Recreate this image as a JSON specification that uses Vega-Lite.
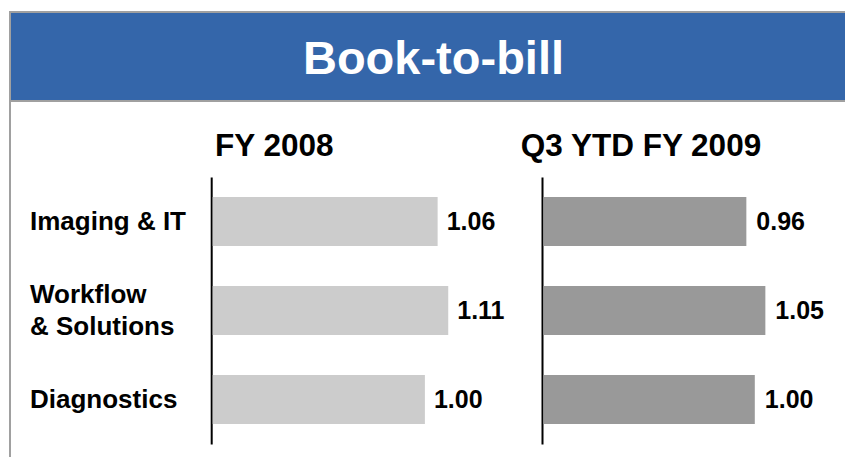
{
  "$schema": "https://vega.github.io/schema/vega-lite/v6.json",
  "width": 837,
  "height": 447,
  "autosize": "none",
  "padding": {"left": 10, "top": 12, "right": -2, "bottom": -2},
  "background": "white",
  "view": {"stroke": "#a0a0a0", "strokeWidth": 2, "fill": "white"},
  "config": {"font": "Liberation Sans"},
  "datasets": {
    "header": [{"title": "Book-to-bill"}],
    "b2b": [
      {"period": "FY 2008", "segment": "Imaging & IT", "value": 1.06},
      {"period": "FY 2008", "segment": "Workflow & Solutions", "value": 1.11},
      {"period": "FY 2008", "segment": "Diagnostics", "value": 1.00},
      {"period": "Q3 YTD FY 2009", "segment": "Imaging & IT", "value": 0.96},
      {"period": "Q3 YTD FY 2009", "segment": "Workflow & Solutions", "value": 1.05},
      {"period": "Q3 YTD FY 2009", "segment": "Diagnostics", "value": 1.00}
    ]
  },
  "layer": [
    {
      "data": {"name": "header"},
      "layer": [
        {
          "mark": {"type": "rect", "fill": "#3466AA", "stroke": "#a0a0a0", "strokeWidth": 2},
          "encoding": {
            "y": {"datum": 0, "type": "quantitative", "scale": {"domain": [0, 1], "range": [0, 89], "nice": false}, "axis": null},
            "y2": {"datum": 1}
          }
        },
        {
          "mark": {"type": "text", "color": "white", "fontSize": 47, "fontWeight": "bold", "font": "Liberation Sans", "align": "center", "baseline": "middle", "dx": 5, "dy": 3},
          "encoding": {
            "y": {"datum": 0.5, "type": "quantitative"},
            "text": {"field": "title"}
          }
        }
      ]
    },
    {
      "data": {"name": "b2b"},
      "transform": [{"filter": "datum.period == 'FY 2008'"}],
      "encoding": {
        "y": {
          "field": "segment", "type": "nominal", "sort": null,
          "scale": {"range": [165, 432], "paddingInner": 0.45, "paddingOuter": 0.225},
          "axis": {
            "orient": "left", "offset": -201.2, "title": null, "grid": false,
            "domainColor": "black", "domainWidth": 2,
            "ticks": false, "tickSize": 0,
            "labelAlign": "left", "labelBaseline": "middle", "labelPadding": 181.7,
            "labelOffset": {"condition": {"test": "datum.value == 'Workflow & Solutions'", "value": -16}, "value": 0},
            "labelFontSize": 26, "labelFontWeight": "bold", "labelColor": "black", "labelFont": "Liberation Sans",
            "labelLimit": 400, "labelLineHeight": 32,
            "labelExpr": "datum.value == 'Workflow & Solutions' ? ['Workflow', '& Solutions'] : datum.label"
          }
        },
        "x": {
          "field": "value", "type": "quantitative",
          "scale": {"domain": [0, 1], "range": [202.7, 414.9], "nice": false},
          "axis": {
            "orient": "top", "domain": false, "ticks": false, "labels": false, "grid": false,
            "title": "FY 2008", "titleFontSize": 31.5, "titleFontWeight": "bold", "titleColor": "black", "titleFont": "Liberation Sans",
            "titleX": 204.5, "titleY": 143.7, "titleAlign": "left", "titleBaseline": "alphabetic"
          }
        }
      },
      "layer": [
        {"mark": {"type": "bar", "color": "#cccccc"}},
        {
          "mark": {"type": "text", "align": "left", "baseline": "middle", "dx": 9, "fontSize": 25, "fontWeight": "bold", "color": "black", "font": "Liberation Sans"},
          "encoding": {"text": {"field": "value", "type": "quantitative", "format": ".2f"}}
        }
      ]
    },
    {
      "data": {"name": "b2b"},
      "transform": [{"filter": "datum.period == 'Q3 YTD FY 2009'"}],
      "encoding": {
        "y": {
          "field": "segment", "type": "nominal", "sort": null,
          "scale": {"range": [165, 432], "paddingInner": 0.45, "paddingOuter": 0.225},
          "axis": {
            "orient": "left", "offset": -532, "title": null, "grid": false,
            "domainColor": "black", "domainWidth": 2,
            "ticks": false, "tickSize": 0, "labels": false
          }
        },
        "x": {
          "field": "value", "type": "quantitative",
          "scale": {"domain": [0, 1], "range": [533.5, 744.8], "nice": false},
          "axis": {
            "orient": "top", "domain": false, "ticks": false, "labels": false, "grid": false,
            "title": "Q3 YTD FY 2009", "titleFontSize": 31.5, "titleFontWeight": "bold", "titleColor": "black", "titleFont": "Liberation Sans",
            "titleX": 510.2, "titleY": 143.7, "titleAlign": "left", "titleBaseline": "alphabetic"
          }
        }
      },
      "layer": [
        {"mark": {"type": "bar", "color": "#999999"}},
        {
          "mark": {"type": "text", "align": "left", "baseline": "middle", "dx": 10, "fontSize": 25, "fontWeight": "bold", "color": "black", "font": "Liberation Sans"},
          "encoding": {"text": {"field": "value", "type": "quantitative", "format": ".2f"}}
        }
      ]
    }
  ],
  "resolve": {
    "scale": {"x": "independent", "y": "independent"},
    "axis": {"x": "independent", "y": "independent"}
  }
}
